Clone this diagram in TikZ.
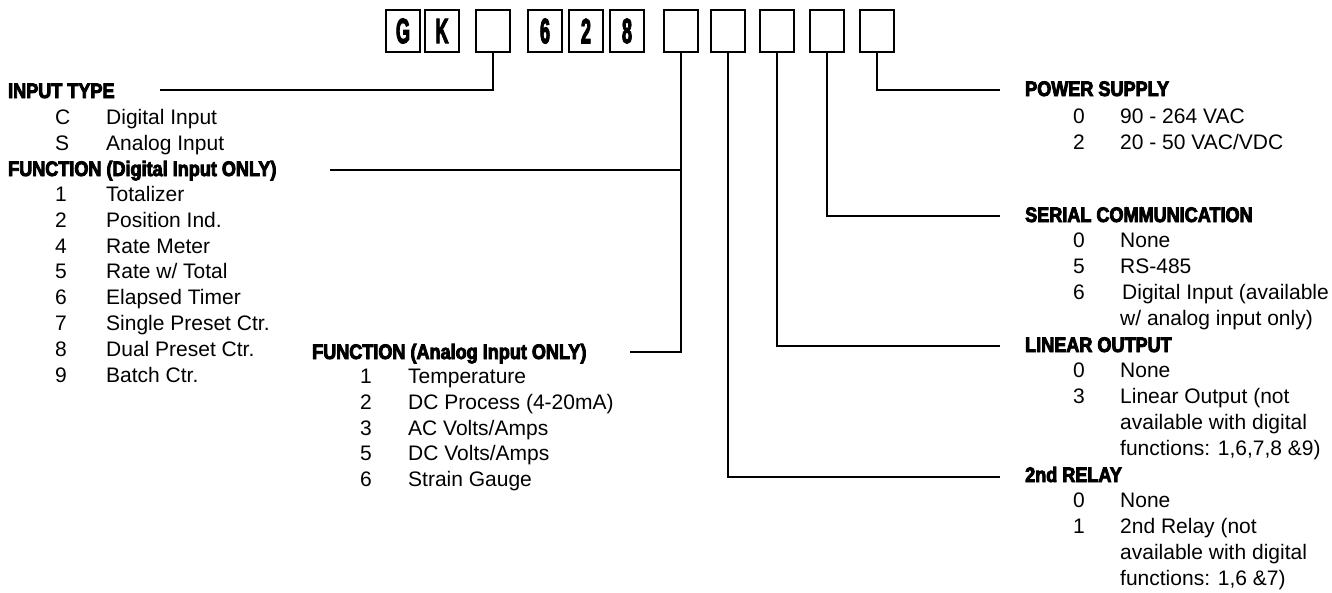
\documentclass[tikz,border=0pt]{standalone}
\usepackage{fontspec}
\usepackage{graphicx}
\setmainfont{Liberation Sans}
\newfontfamily\hdfont[FakeBold=4,FakeStretch=0.86]{Liberation Sans Bold}
\newfontfamily\boxfont[FakeBold=4]{Liberation Sans Bold}
\begin{document}
\begin{tikzpicture}[x=1pt,y=-1pt,
  codebox/.style={draw, line width=2pt, minimum width=34pt, minimum height=42pt, inner sep=0pt},
  codeltr/.style={codebox, font=\boxfont\fontsize{35}{35}\selectfont},
  hdr/.style={anchor=base west, inner sep=0pt, font=\hdfont\fontsize{21}{21}\selectfont},
  itm/.style={anchor=base west, inner sep=0pt, font=\fontsize{21}{21}\selectfont},
  conn/.style={line width=2pt}]
\useasboundingbox (0,0) rectangle (1332,592);
% code boxes
\node[codeltr] (bG) at (403,31) {\scalebox{0.52}[1]{G}};
\node[codeltr] (bK) at (442,31) {\scalebox{0.52}[1]{K}};
\node[codebox] (b3) at (493,31) {};
\node[codeltr] (b6) at (545,31) {\scalebox{0.52}[1]{6}};
\node[codeltr] (b2) at (586,31) {\scalebox{0.52}[1]{2}};
\node[codeltr] (b8) at (627,31) {\scalebox{0.52}[1]{8}};
\node[codebox] (b7) at (681,31) {};
\node[codebox] (bR) at (728,31) {};
\node[codebox] (bL) at (777,31) {};
\node[codebox] (bS) at (827,31) {};
\node[codebox] (bP) at (877,31) {};
% left column
\node[hdr] (hIn) at (8,98) {INPUT TYPE};
\node[itm] at (55,124.5) {C};
\node[itm] at (106,124.5) {Digital Input};
\node[itm] at (55,150.5) {S};
\node[itm] at (106,150.5) {Analog Input};
\node[hdr] (hDig) at (8,176) {FUNCTION (Digital Input ONLY)};
\foreach \d/\t [count=\i from 0] in {1/{Totalizer},2/{Position Ind.},4/{Rate Meter},5/{Rate w/ Total},6/{Elapsed Timer},7/{Single Preset Ctr.},8/{Dual Preset Ctr.},9/{Batch Ctr.}}{
  \node[itm] at (55,201.5+25.8*\i) {\d};
  \node[itm] at (106,201.5+25.8*\i) {\t};
}
% analog function
\node[hdr] (hAn) at (312,359) {FUNCTION (Analog Input ONLY)};
\foreach \d/\t [count=\i from 0] in {1/{Temperature},2/{DC Process (4-20mA)},3/{AC Volts/Amps},5/{DC Volts/Amps},6/{Strain Gauge}}{
  \node[itm] at (360,383.5+25.8*\i) {\d};
  \node[itm] at (408,383.5+25.8*\i) {\t};
}
% right column
\node[hdr] (hPow) at (1025,96) {POWER SUPPLY};
\node[itm] at (1073,123.5) {0};
\node[itm] at (1120,123.5) {90 - 264 VAC};
\node[itm] at (1073,149.5) {2};
\node[itm] at (1120,149.5) {20 - 50 VAC/VDC};
\node[hdr] (hSer) at (1025,222) {SERIAL COMMUNICATION};
\node[itm] at (1073,247.5) {0};
\node[itm] at (1120,247.5) {None};
\node[itm] at (1073,273.5) {5};
\node[itm] at (1120,273.5) {RS-485};
\node[itm] at (1073,299.5) {6};
\node[itm] at (1122,299.5) {Digital Input (available};
\node[itm] at (1120,325.5) {w/ analog input only)};
\node[hdr] (hLin) at (1025,352) {LINEAR OUTPUT};
\node[itm] at (1073,377.5) {0};
\node[itm] at (1120,377.5) {None};
\node[itm] at (1073,403.5) {3};
\node[itm] at (1120,403.5) {Linear Output (not};
\node[itm] at (1120,429.5) {available with digital};
\node[itm] at (1120,455.5) {functions: 1,6,7,8 \&9)};
\node[hdr] (hRel) at (1025,482) {2nd RELAY};
\node[itm] at (1073,507.5) {0};
\node[itm] at (1120,507.5) {None};
\node[itm] at (1073,533.5) {1};
\node[itm] at (1120,533.5) {2nd Relay (not};
\node[itm] at (1120,559.5) {available with digital};
\node[itm] at (1120,585.5) {functions: 1,6 \&7)};
% connector ends
\coordinate (eIn) at (160,90);
\coordinate (eDig) at (330,170);
\coordinate (eAn) at (630,352);
\coordinate (ePow) at (1000,90);
\coordinate (eSer) at (1000,216);
\coordinate (eLin) at (1000,346);
\coordinate (eRel) at (1000,477);
% connectors
\draw[conn] (b3.south) |- (eIn);
\draw[conn] (b7.south) |- (eAn);
\draw[conn] (eDig) -- (eDig -| b7.south);
\draw[conn] (bR.south) |- (eRel);
\draw[conn] (bL.south) |- (eLin);
\draw[conn] (bS.south) |- (eSer);
\draw[conn] (bP.south) |- (ePow);
\end{tikzpicture}
\end{document}
